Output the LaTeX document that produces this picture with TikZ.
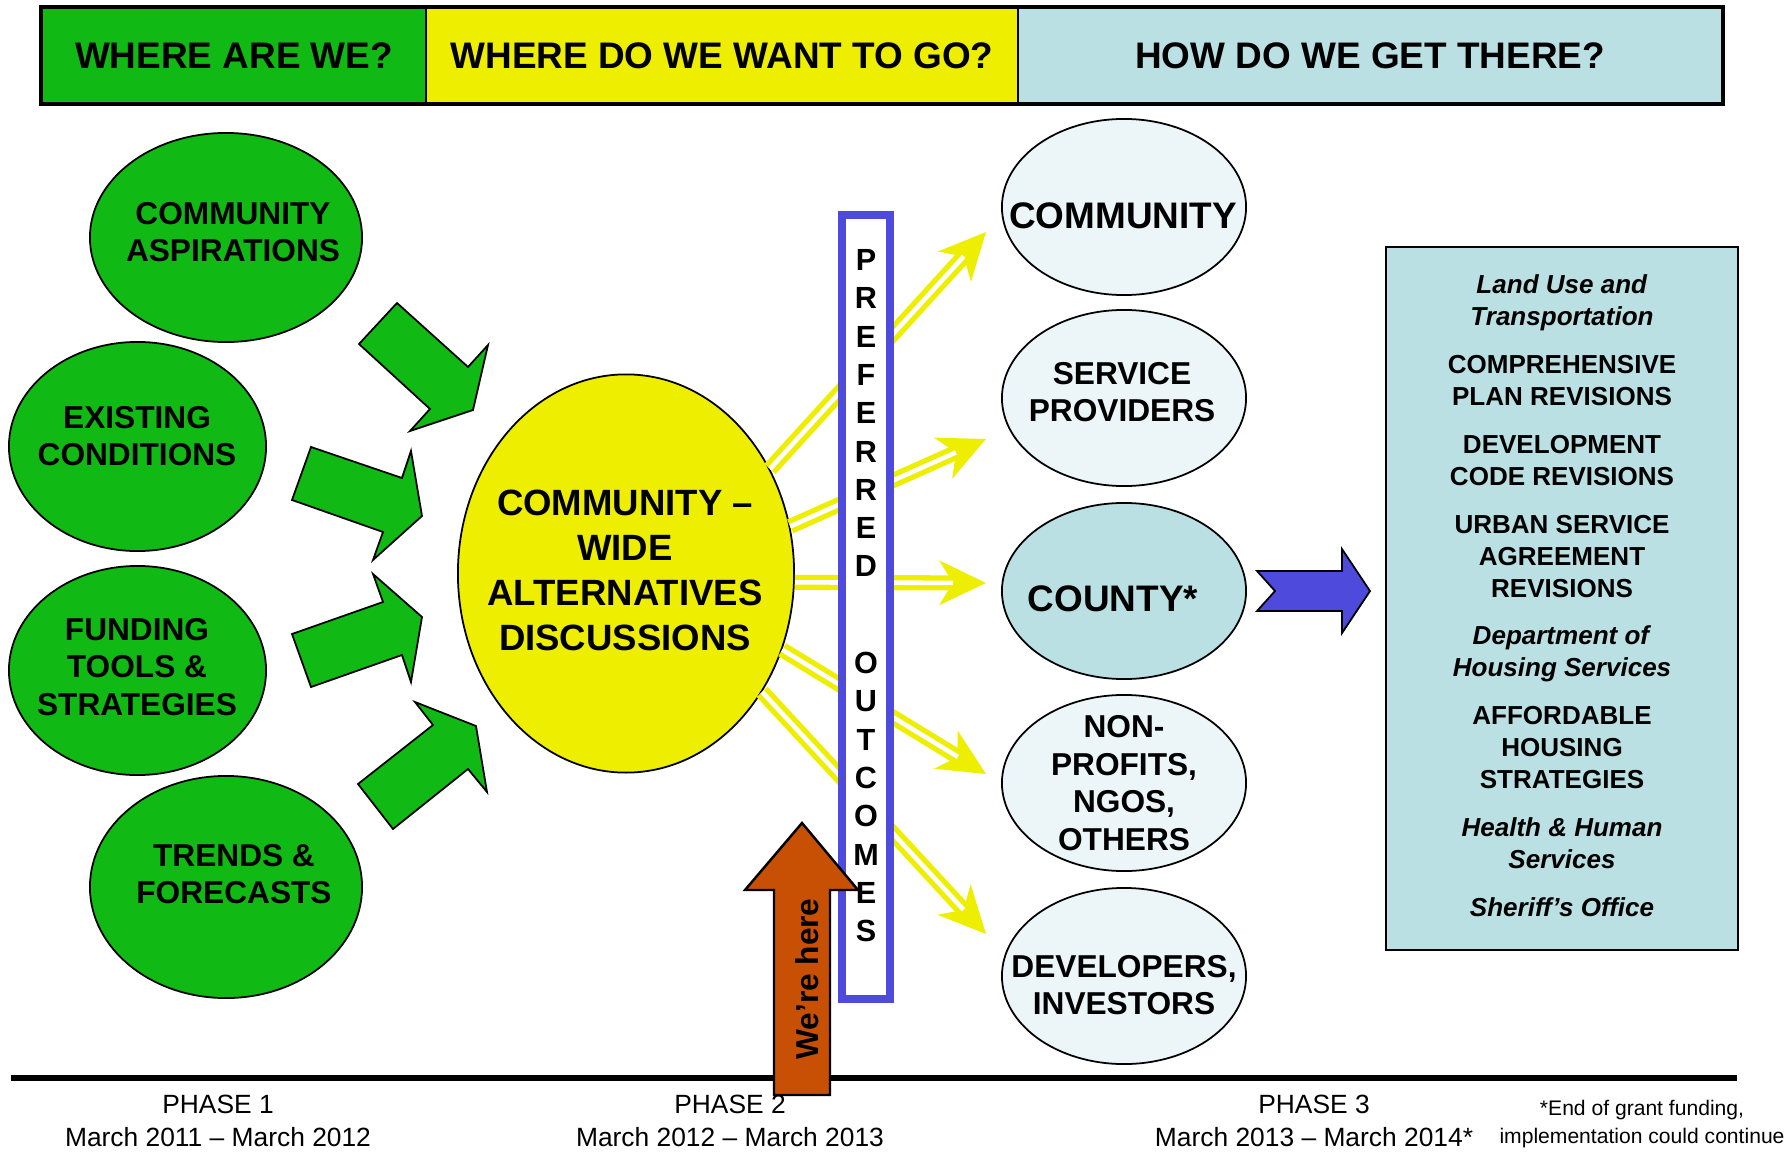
\documentclass[tikz,border=0pt]{standalone}
\usepackage{fontspec}
\setmainfont{Liberation Sans}
\usetikzlibrary{arrows.meta,shapes.geometric}

\definecolor{leaf}{RGB}{16,185,20}
\definecolor{lemon}{RGB}{238,238,0}
\definecolor{sky}{RGB}{186,224,227}
\definecolor{mist}{RGB}{236,245,247}
\definecolor{iris}{RGB}{78,75,220}
\definecolor{rust}{RGB}{200,80,5}

\begin{document}
\begin{tikzpicture}
[x=0.01cm,y=-0.01cm,
 hdr/.style={draw,line width=0.6pt,minimum height=0.95cm,inner sep=0pt,font=\bfseries\fontsize{10.5}{12}\selectfont},
 oval/.style={ellipse,draw,line width=0.5pt,inner sep=0pt},
 big/.style={align=center,inner sep=0pt,font=\bfseries\fontsize{10.5}{12.8}\selectfont},
 small/.style={align=center,inner sep=0pt,font=\bfseries\fontsize{9}{10.7}\selectfont},
 block/.style={draw,line width=0.5pt,line join=miter},
 yarrow/.style={draw=lemon,line width=4.3pt,-{Stealth[length=4.7mm,width=4.5mm,inset=1.4mm,line width=0pt]},
   postaction={draw=white,line width=1.3pt,shorten >=3.3mm,-}},
 letter/.style={inner sep=0pt,font=\bfseries\fontsize{8.7}{10}\selectfont},
 phase/.style={align=center,inner sep=0pt,font=\fontsize{7.5}{9.4}\selectfont}]

\useasboundingbox (0,0) rectangle (1789,1155);

\node[hdr,fill=leaf,minimum width=3.84cm] (h1) at (234,55.5) {WHERE ARE WE?};
\node[hdr,fill=lemon,minimum width=5.92cm] (h2) at (722,55.5) {WHERE DO WE WANT TO GO?};
\node[hdr,fill=sky,minimum width=7.04cm] (h3) at (1370,55.5) {HOW DO WE GET THERE?};
\draw[line width=1pt] (h1.north west) rectangle (h3.south east);

\node[oval,fill=leaf,minimum width=2.72cm,minimum height=2.09cm] (g1) at (226,237.5) {};
\node[small] (g1t) at (233,232) {COMMUNITY\\ASPIRATIONS};
\node[oval,fill=leaf,minimum width=2.57cm,minimum height=2.09cm] (g2) at (137.5,446.5) {};
\node[small] (g2t) at (137,436) {EXISTING\\CONDITIONS};
\node[oval,fill=leaf,minimum width=2.57cm,minimum height=2.09cm] (g3) at (137.5,670.5) {};
\node[small] (g3t) at (137,667) {FUNDING\\TOOLS \&\\STRATEGIES};
\node[oval,fill=leaf,minimum width=2.72cm,minimum height=2.22cm] (g4) at (226,887) {};
\node[small] (g4t) at (234,874) {TRENDS \&\\FORECASTS};

\draw[block,fill=leaf] (397,303) -- (468,367) -- (488,345) -- (473,410) -- (410,431) -- (430,409) -- (359,344) -- cycle;
\draw[block,fill=leaf] (311,447) -- (402,478) -- (411,451) -- (422,516) -- (373,560) -- (383,532) -- (292,500) -- cycle;
\draw[block,fill=leaf] (292,634) -- (383,602) -- (373,574) -- (422,617) -- (411,682) -- (402,655) -- (311,687) -- cycle;
\draw[block,fill=leaf] (358,784) -- (433,725) -- (415,702) -- (476,726) -- (487,792) -- (468,769) -- (393,829) -- cycle;

\node[oval,fill=lemon,minimum width=3.36cm,minimum height=3.98cm] (hub) at (626,573.5) {};
\node[align=center,inner sep=0pt,font=\bfseries\fontsize{10.4}{12.8}\selectfont] (hubt) at (625,570) {COMMUNITY –\\WIDE\\ALTERNATIVES\\DISCUSSIONS};

\node[oval,fill=mist,minimum width=2.44cm,minimum height=1.76cm] (r1) at (1124,207) {};
\node[big] (r1t) at (1123,216) {COMMUNITY};
\node[oval,fill=mist,minimum width=2.44cm,minimum height=1.76cm] (r2) at (1124,398) {};
\node[small] (r2t) at (1122,392) {SERVICE\\PROVIDERS};
\node[oval,fill=sky,minimum width=2.44cm,minimum height=1.76cm] (r3) at (1124,591) {};
\node[big] (r3t) at (1113,599) {COUNTY*};
\node[oval,fill=mist,minimum width=2.44cm,minimum height=1.76cm] (r4) at (1124,783) {};
\node[small] (r4t) at (1124,783) {NON-\\PROFITS,\\NGOS,\\OTHERS};
\node[oval,fill=mist,minimum width=2.44cm,minimum height=1.76cm] (r5) at (1124,976) {};
\node[small] (r5t) at (1124,985) {DEVELOPERS,\\INVESTORS};

\coordinate (t1) at (986,232);
\coordinate (t2) at (986,439);
\coordinate (t3) at (986,583);
\coordinate (t4) at (986,774);
\coordinate (t5) at (986,934);
\foreach \a/\t in {36/t1,16/t2,357/t3,334/t4,319/t5}
\draw[yarrow] (hub.\a) -- (\t);

\node[draw=iris,line width=2.3pt,fill=white,minimum width=0.48cm,minimum height=7.84cm,inner sep=0pt] (outc) at (866,607) {};
\foreach \ch [count=\i] in {P,R,E,F,E,R,R,E,D}
\node[letter] at (866,221.7+38.3*\i) {\ch};
\foreach \ch [count=\i] in {O,U,T,C,O,M,E,S}
\node[letter] at (866,624.7+38.3*\i) {\ch};

\draw[block,fill=iris] (1257,571) -- (1342,571) -- (1342,549) -- (1370,591) -- (1342,633) -- (1342,611) -- (1257,611) -- (1275,591) -- cycle;

\node[draw,line width=0.7pt,fill=sky,minimum width=3.52cm,minimum height=7.03cm,inner sep=0pt] (plan) at (1562,598.5) {};
\node[align=center,anchor=north,inner sep=0pt,font=\bfseries\fontsize{7.4}{9.1}\selectfont] (plant) at (1562,274) {\textit{Land Use and}\\\textit{Transportation}\\[4.5pt]
COMPREHENSIVE\\PLAN REVISIONS\\[4.5pt]
DEVELOPMENT\\CODE REVISIONS\\[4.5pt]
URBAN SERVICE\\AGREEMENT\\REVISIONS\\[4.5pt]
\textit{Department of}\\\textit{Housing Services}\\[4.5pt]
AFFORDABLE\\HOUSING\\STRATEGIES\\[4.5pt]
\textit{Health \& Human}\\\textit{Services}\\[4.5pt]
\textit{Sheriff’s Office}};

\draw[line width=1.7pt] (11,1078) -- (1737,1078);

\draw[block,fill=rust,line width=0.7pt] (774,1095) -- (774,890) -- (745,890) -- (802,823) -- (858,890) -- (830,890) -- (830,1095) -- cycle;
\node[rotate=90,inner sep=0pt,font=\bfseries\fontsize{9}{10}\selectfont] (here) at (807,979) {We’re here};

\node[phase] (p1) at (218,1121) {PHASE 1\\March 2011 – March 2012};
\node[phase] (p2) at (730,1121) {PHASE 2\\March 2012 – March 2013};
\node[phase] (p3) at (1314,1121) {PHASE 3\\March 2013 – March 2014*};
\node[align=center,inner sep=0pt,font=\fontsize{6}{8}\selectfont] (fn) at (1642,1124) {*End of grant funding,\\implementation could continue};
\end{tikzpicture}
\end{document}
